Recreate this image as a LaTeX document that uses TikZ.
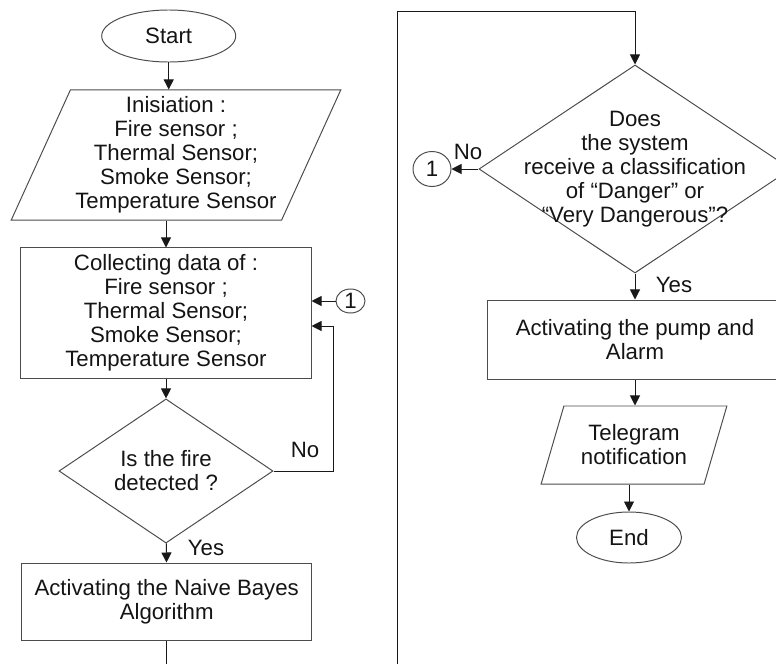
\documentclass[tikz,border=0pt]{standalone}
\usepackage{fontspec}
\setmainfont{Liberation Sans}
\usetikzlibrary{arrows.meta, shapes.geometric, positioning}
\tikzset{>={Triangle[length=2.5mm,width=2.5mm]}}
\tikzset{
  box/.style={draw=black!70, rectangle, inner sep=1pt, align=center},
  io/.style={draw=black!70, trapezium, trapezium stretches=true, inner sep=1pt, align=center},
  decision/.style={draw=black!70, diamond, inner sep=0pt, align=center},
  term/.style={draw=black!70, ellipse, inner sep=0pt},
  conn/.style={draw=black!70, ellipse, inner sep=0pt}
}

\begin{document}
\begin{tikzpicture}[x=0.025cm, y=-0.025cm, line width=0.7pt, color=black!90,
  every node/.style={font=\fontsize{15.8}{17.1}\selectfont, text=black!92}]

		\useasboundingbox (0,0) rectangle (776,664);

		\node[term, minimum width=3.35cm, minimum height=1.3cm] (S) at (168.7,36) {Start};
		\node[io, trapezium left angle=64.5, trapezium right angle=115.5, minimum width=8.25cm, minimum height=3.25cm] (I) at (176,155)
		  {Inisiation :\\ Fire sensor ;\\ Thermal Sensor;\\ Smoke Sensor;\\ Temperature Sensor};
		\node[box, minimum width=7.25cm, minimum height=3.25cm] (C) at (166,313)
		  {Collecting data of :\\ Fire sensor ;\\ Thermal Sensor;\\ Smoke Sensor;\\ Temperature Sensor};
		\node[decision, minimum width=5.35cm, minimum height=3.2cm] (D1) at (166,471) {Is the fire\\ detected ?};
		\node[box, minimum width=7.25cm, minimum height=1.925cm] (B) at (166.7,601.5) {Activating the Naive Bayes\\ Algorithm};
		\node[conn, minimum width=0.725cm, minimum height=0.6cm] (K1) at (350.5,301) {1};
		\coordinate (L) at (333,326);
		\coordinate (Lout) at (166.7,664);

		\node[decision, minimum width=7.8cm, minimum height=5.2cm] (D2) at (635,169) {};
		\node[align=center] (Q) at (D2) {Does\\ the system\\ receive a classification\\ of “Danger” or\\ “Very Dangerous”?};
		\node[conn, minimum width=0.95cm, minimum height=0.875cm] (K2) at (432,169) {1};
		\node[box, minimum width=7.35cm, minimum height=1.975cm] (P) at (635,339.5) {Activating the pump and\\ Alarm};
		\node[io, trapezium left angle=67.7, trapezium right angle=112.3, minimum width=4.65cm, minimum height=1.95cm] (T) at (634,445)
		  {Telegram\\ notification};
		\node[term, minimum width=2.625cm, minimum height=1.275cm] (E) at (629,537.5) {End};
		\coordinate (Rin) at (397,664);
		\coordinate (Rtop) at (397,11);

		\draw [->] (S) -- (S |- I.north);
		\draw [->] (I.south -| C) -- (C);
		\draw [->] (C) -- (D1);
		\draw [->] (D1) -- (B);
		\draw (B) -- (Lout);
		\draw [->] (K1) -- (K1 -| C.east);
		\draw [->] (D1.east) -| (L) -- (L -| C.east);
		\draw [->] (Rin) -- (Rtop) -| (D2.north);
		\draw [->] (D2.west) -- (K2);
		\draw [->] (D2) -- (P);
		\draw [->] (P) -- (P |- T.north);
		\draw [->] (T.south -| E) -- (E);
		\node at (305,450) {No};
		\node at (206,548) {Yes};
		\node at (468,152) {No};
		\node at (674,285) {Yes};

\end{tikzpicture}
\end{document}
